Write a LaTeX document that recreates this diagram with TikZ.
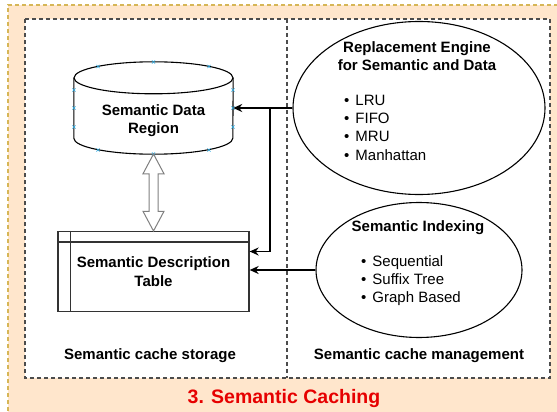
\documentclass[tikz,border=0pt]{standalone}
\usepackage{fontspec}
\setmainfont{Liberation Sans}
\usetikzlibrary{shapes.geometric,shapes.arrows,arrows.meta,calc}
\definecolor{orfill}{HTML}{FFE6CC}
\definecolor{orline}{HTML}{D6B656}
\definecolor{titlered}{HTML}{E60000}
\definecolor{handle}{HTML}{29A8E0}
\begin{document}
\begin{tikzpicture}[x=1pt,y=-1pt,
  font=\fontsize{15}{18.3}\selectfont,
  box/.style={draw=black!70, dash pattern=on 4pt off 3pt, line width=1.3pt},
  arr/.style={-{Stealth[length=9pt,width=8pt]}, line width=1.6pt},
  lbl/.style={font=\fontsize{15}{18.3}\selectfont\bfseries, align=center},
  ell/.style={ellipse, draw, line width=1.1pt, fill=white, inner sep=0pt},
  lst/.style={anchor=west, align=left, inner sep=0pt}]
\useasboundingbox (0,0) rectangle (557,412);
% outer orange frame
\fill[orfill] (8,5) rectangle (575,425);
\draw[orline, dash pattern=on 4pt off 3pt, line width=1.2pt] (8,425) -- (8,5) -- (575,5);
% inner dashed box
\fill[white] (25,19) rectangle (550,378);
\draw[box] (25,19) rectangle (550,378);
\draw[box] (287,19) -- (287,378);
% cylinder
\node[minimum width=159pt, minimum height=92pt, inner sep=0pt] (cyl) at (153.5,108) {};
\draw[line width=1.1pt, fill=white] ($(cyl.north west)+(0,16)$) -- ($(cyl.south west)+(0,-16)$)
  arc[start angle=180, end angle=360, x radius=79.5pt, y radius=16pt]
  -- ($(cyl.north east)+(0,16)$);
\draw[line width=1.1pt, fill=white] ($(cyl.north)+(0,16)$) ellipse[x radius=79.5pt, y radius=16pt];
\node[lbl] at (153.5,121) {Semantic Data\\Region};
\foreach \p in {(153.5,62),(98,66.5),(209,66.5),(74,90),(74,108),(74,127),(233,90),(233,108),(233,127),(98,150),(209,150),(153.5,154)}
  \draw[handle, line width=0.6pt] \p +(-1.6,-1.6) -- +(1.6,1.6) \p +(-1.6,1.6) -- +(1.6,-1.6);
% table
\node[draw=black!80, line width=1.3pt, minimum width=191pt, minimum height=80pt, inner sep=0pt, lbl] (tab) at (153.5,271.5) {Semantic Description\\Table};
\draw[black!80, line width=1.3pt] ($(tab.north west)+(0,11)$) -- ($(tab.north east)+(0,11)$);
\draw[black!80, line width=1.3pt] ($(tab.north west)+(13,0)$) -- ($(tab.south west)+(13,0)$);
% hollow double arrow
\node[double arrow, draw=black!50, fill=white, line width=1pt, rotate=90, inner xsep=0pt, inner ysep=4pt,
  minimum height=77pt, minimum width=20pt, double arrow head extend=6pt, double arrow tip angle=56]
  (dbl) at ($(cyl.south)!0.5!(tab.north)$) {};
% ellipses
\node[ell, minimum width=252pt, minimum height=173pt] (rep) at (419,108) {};
\node[lbl] at (417,56) {Replacement Engine\\for Semantic and Data};
\node[lst] at (344,127.5) {\textbullet\hspace{6pt}LRU\\\textbullet\hspace{6pt}FIFO\\\textbullet\hspace{6pt}MRU\\\textbullet\hspace{6pt}Manhattan};
\node[ell, minimum width=206pt, minimum height=135pt] (idx) at (419,270) {};
\node[lbl] at (418,228) {Semantic Indexing};
\node[lst] at (361,280.5) {\textbullet\hspace{6pt}Sequential\\\textbullet\hspace{6pt}Suffix Tree\\\textbullet\hspace{6pt}Graph Based};
% connectors
\coordinate (j) at (270,108);
\draw[arr] (rep.west) -- (cyl.east);
\draw[arr] (j) |- ([yshift=20pt]tab.east);
\draw[arr, black] (idx.west) -- (idx.west -| tab.east);
% labels
\node[lbl] at (150,356) {Semantic cache storage};
\node[lbl] at (419,356) {Semantic cache management};
\node[font=\fontsize{19.5}{22}\selectfont\bfseries, text=titlered] at (284,398) {3. Semantic Caching};
\end{tikzpicture}
\end{document}
